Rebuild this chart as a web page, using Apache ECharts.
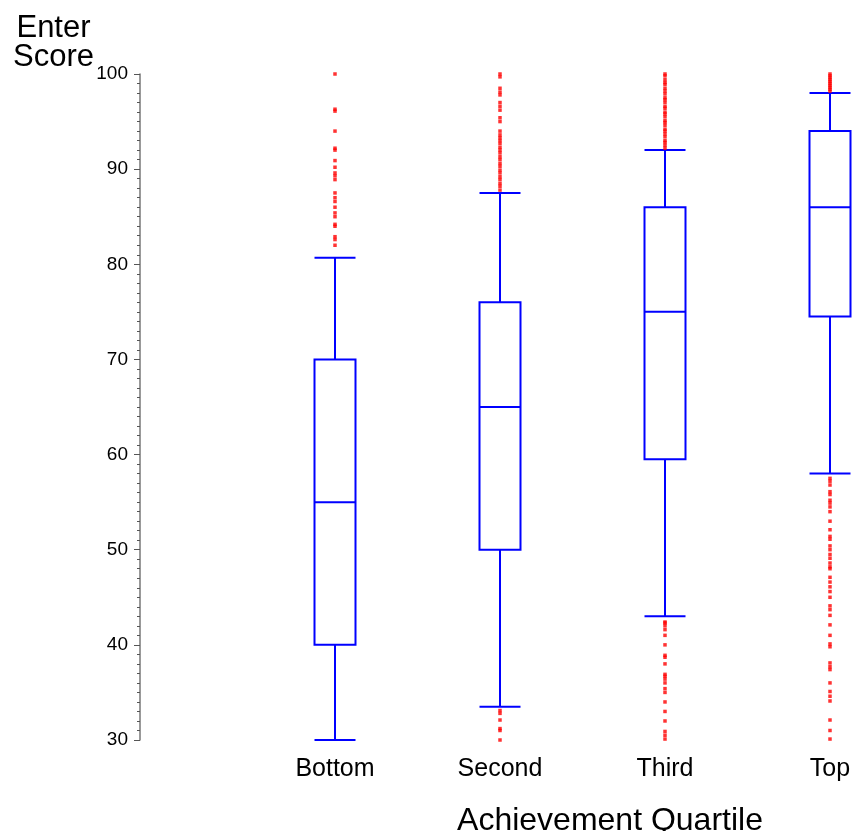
<!DOCTYPE html>
<html>
<head>
<meta charset="utf-8">
<script src="https://cdn.jsdelivr.net/npm/echarts@6/dist/echarts.min.js"></script>
<style>html,body{margin:0;padding:0;background:#fff;}#chart{width:853px;height:831px;}</style>
</head>
<body>
<div id="chart"></div>
<script>
var categories = ['Bottom', 'Second', 'Third', 'Top'];
var whiskerLow = [30, 33.5, 43, 58];
var q1 = [40, 50, 59.5, 74.5];
var median = [55, 65, 75, 86];
var q3 = [70, 76, 86, 94];
var whiskerHigh = [80.7, 87.5, 92, 98];

var bottomOutliers = [100, 96.3, 96.1, 94.0, 92.2, 92.0, 90.9, 90.2, 89.6, 89.3, 88.9, 87.5, 87.0, 86.6, 86.0, 85.4, 85.0, 84.2, 84.0, 82.9, 82.6, 82.0];
var secondOutliers = [100, 99.7, 98.5, 98.1, 97.8, 97.0, 96.6, 96.2, 95.4, 95.0, 94.0, 93.6, 93.3, 93.0, 92.7, 92.3, 92.0, 91.7, 91.3, 91.0, 90.6, 90.3, 89.9, 89.6, 89.2, 88.9, 88.5, 88.2, 87.8, 33.1, 32.8, 32.1, 31.2, 31.0, 30.0];
var thirdOutliers = [100, 99.8, 99.4, 99.1, 98.9, 98.5, 98.2, 97.9, 97.5, 97.3, 97.0, 96.6, 96.4, 96.0, 95.8, 95.5, 95.1, 94.9, 94.6, 94.2, 94.0, 93.7, 93.4, 93.0, 92.8, 92.5, 92.2, 42.4, 42.3, 42.0, 41.6, 41.0, 40.0, 38.9, 38.7, 38.0, 36.9, 36.7, 36.4, 36.0, 35.4, 35.0, 34.0, 33.0, 32.0, 30.9, 30.5, 30.1];
var topOutliers = [100, 99.8, 99.6, 99.4, 99.2, 99.0, 98.8, 98.6, 98.4, 98.2, 57.5, 57.2, 56.8, 56.1, 55.8, 55.2, 54.9, 54.5, 54.0, 53.0, 52.1, 51.4, 51.1, 50.4, 50.0, 49.5, 49.1, 48.6, 48.2, 48.0, 47.1, 46.6, 46.1, 45.6, 45.0, 44.1, 43.7, 43.1, 42.1, 41.0, 40.1, 39.8, 38.1, 37.7, 37.4, 36.0, 35.1, 34.6, 34.1, 32.1, 31.0, 30.1];

var yTicks = [30, 40, 50, 60, 70, 80, 90, 100];
var yAxisTitle = 'Enter\nScore';
var xAxisTitle = 'Achievement Quartile';

var boxData = categories.map(function (c, i) {
  return [whiskerLow[i], q1[i], median[i], q3[i], whiskerHigh[i]];
});
var outlierLists = [bottomOutliers, secondOutliers, thirdOutliers, topOutliers];
var outlierData = [];
outlierLists.forEach(function (list, i) {
  list.forEach(function (v) { outlierData.push([i, v]); });
});

var FONT = "'Liberation Sans', Arial, sans-serif";
var chart = echarts.init(document.getElementById('chart'));
chart.setOption({
  animation: false,
  backgroundColor: '#ffffff',
  grid: { left: 252.5, top: 74, width: 660, height: 666, containLabel: false, outerBoundsMode: 'none' },
  xAxis: {
    type: 'category',
    data: categories,
    boundaryGap: true,
    axisLine: { show: false },
    axisTick: { show: false },
    splitLine: { show: false },
    axisLabel: { color: '#000', fontSize: 25, fontFamily: FONT, margin: 17 }
  },
  yAxis: {
    type: 'value',
    min: yTicks[0],
    max: yTicks[yTicks.length - 1],
    interval: 10,
    offset: 112.5,
    axisLine: { show: true, lineStyle: { color: '#777', width: 1.5 } },
    axisTick: { show: true, length: 6, lineStyle: { color: '#555' } },
    minorTick: { show: true, splitNumber: 10, length: 3, lineStyle: { color: '#555' } },
    splitLine: { show: false },
    axisLabel: { color: '#000', fontSize: 19, fontFamily: FONT, margin: 12 }
  },
  graphic: [
    { type: 'text', x: 53.5, y: 43, style: { text: yAxisTitle, font: '31px ' + FONT, fill: '#000', align: 'center', verticalAlign: 'middle', lineHeight: 29 } },
    { type: 'text', x: 610, y: 821, style: { text: xAxisTitle, font: '32px ' + FONT, fill: '#000', align: 'center', verticalAlign: 'middle' } }
  ],
  series: [
    {
      type: 'boxplot',
      data: boxData,
      boxWidth: [41, 41],
      itemStyle: { color: '#ffffff', borderColor: '#0000ff', borderWidth: 2 },
      emphasis: { disabled: true },
      silent: true
    },
    {
      type: 'scatter',
      data: outlierData,
      symbol: 'rect',
      symbolSize: 3.5,
      itemStyle: { color: '#ff0000' },
      clip: false,
      silent: true
    }
  ]
});
</script>
</body>
</html>
